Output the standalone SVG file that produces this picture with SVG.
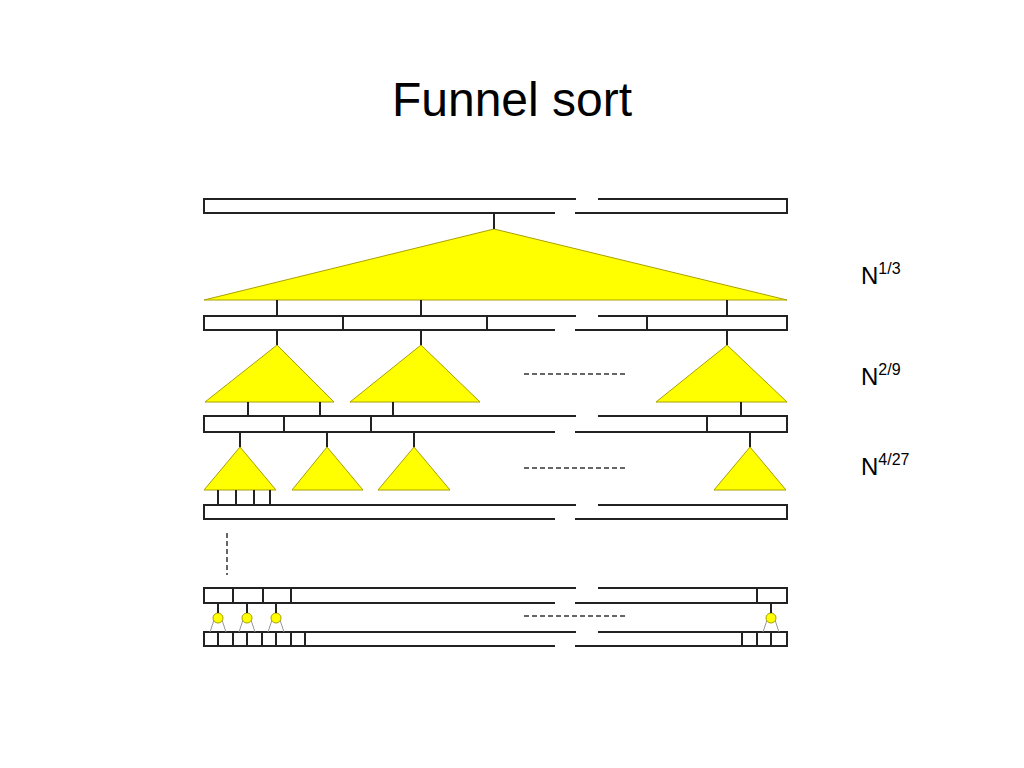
<svg xmlns="http://www.w3.org/2000/svg" width="1024" height="768" viewBox="0 0 1024 768">
<style>
.b{fill:none;stroke:#222;stroke-width:2}
.t{fill:#ffff00;stroke:#aaa000;stroke-width:1}
.c{fill:#ffff00;stroke:#aaa000;stroke-width:1}
.g{stroke:#999;stroke-width:1;fill:none}
.d{stroke:#333;stroke-width:1.5;stroke-dasharray:5,3;fill:none}
text{font-family:"Liberation Sans",Arial,sans-serif;fill:#000}
</style>
<rect width="1024" height="768" fill="#fff"/>
<text x="512" y="116" font-size="48" text-anchor="middle">Funnel sort</text>
<g id="bars">
<path class="b" d="M576,199H204V213H555M575,213H787V199H598"/>
<path class="b" d="M576,316H204V330H555M575,330H787V316H598M343,316V330M487,316V330M647,316V330"/>
<path class="b" d="M576,416H204V432H555M575,432H787V416H598M284,416V432M371,416V432M707,416V432"/>
<path class="b" d="M576,505H204V519H555M575,519H787V505H598"/>
<path class="b" d="M576,588H204V603H555M575,603H787V588H598M233,588V603M263,588V603M291,588V603M757,588V603"/>
<path class="b" d="M576,632H204V646H555M575,646H787V632H598M218,632V646M233,632V646M247,632V646M262,632V646M276,632V646M291,632V646M305,632V646M742,632V646M757,632V646M771,632V646"/>
</g>
<g id="funnels">
<polygon class="t" points="494,229 204,300 787,300"/>
<polygon class="t" points="277,345 205,402 334,402"/>
<polygon class="t" points="421,345 350,402 480,402"/>
<polygon class="t" points="727,345 656,402 787,402"/>
<polygon class="t" points="240,447 204,490 276,490"/>
<polygon class="t" points="327,447 292,490 363,490"/>
<polygon class="t" points="414,447 378,490 450,490"/>
<polygon class="t" points="750,447 714,490 786,490"/>
<path class="g" d="M214,620L210,632M222,620L226,632M243,620L239,632M251,620L255,632M272,620L268,632M280,620L284,632M767,620L763,632M775,620L779,632"/>
<circle class="c" cx="218" cy="618" r="5"/>
<circle class="c" cx="247" cy="618" r="5"/>
<circle class="c" cx="276" cy="618" r="5"/>
<circle class="c" cx="771" cy="618" r="5"/>
</g>
<g id="connectors">
<path class="b" d="M494,213V229M277,300V316M421,300V316M727,300V316M277,330V345M421,330V345M727,330V345M248,402V416M320,402V416M393,402V416M741,402V416M240,432V447M327,432V447M414,432V447M750,432V447M218,490V505M236,490V505M254,490V505M270,490V505M218,603V613M247,603V613M276,603V613M771,603V613"/>
<path class="d" d="M524,374H626M524,468H626M524,616H626"/>
<path class="d" d="M227,533V575" stroke-dasharray="5,3"/>
</g>
<g id="labels" font-size="24">
<text x="861" y="284">N<tspan font-size="16" dy="-10">1/3</tspan></text>
<text x="861" y="385">N<tspan font-size="16" dy="-10">2/9</tspan></text>
<text x="861" y="475">N<tspan font-size="16" dy="-10">4/27</tspan></text>
</g>
</svg>
